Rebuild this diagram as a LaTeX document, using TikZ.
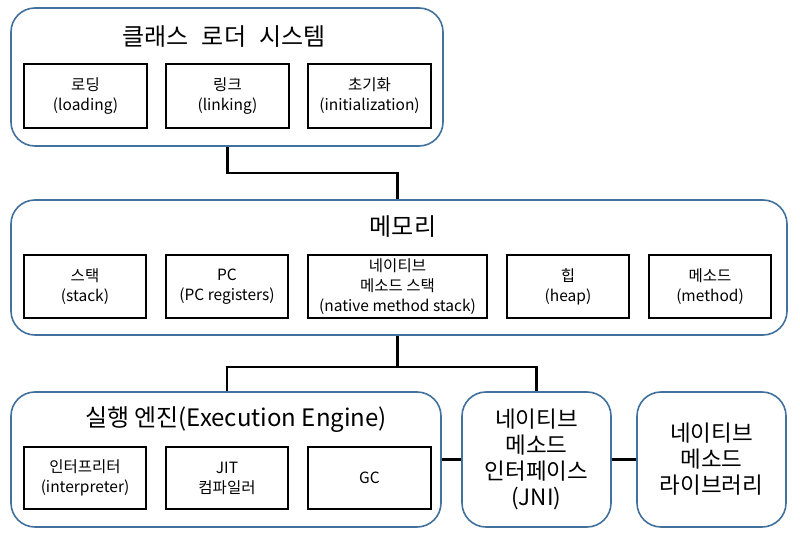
\documentclass[tikz,border=0pt]{standalone}
\usepackage{fontspec}
\setmainfont{Noto Sans CJK KR}
\definecolor{outl}{HTML}{41719C}
\tikzset{
  x=1pt,y=-1pt,
  group/.style={draw=outl,line width=1.6pt,rounded corners=24pt,fill=white},
  part/.style={draw=black,line width=1.6pt,align=center,inner sep=0pt,
    font=\fontsize{15.5}{20}\selectfont},
  ttl/.style={font=\fontsize{24}{28}\selectfont,inner sep=0pt},
  big/.style={align=center,inner sep=0pt,font=\fontsize{22.5}{26}\selectfont},
  conn/.style={draw=black,line width=2.4pt}
}
\begin{document}
\begin{tikzpicture}
\useasboundingbox (0,0) rectangle (800,534);
% class loader system
\node[group,minimum width=432,minimum height=138] (cls) at (227,77) {};
\node[ttl] (clst) at (224,37) {클래스\hspace{0.55em}로더\hspace{0.55em}시스템};
\node[part,minimum width=123,minimum height=64] (ld) at (85.5,96) {로딩\\(loading)};
\node[part,minimum width=123,minimum height=64] (lnk) at (227.5,96) {링크\\(linking)};
\node[part,minimum width=123,minimum height=64] (ini) at (369.5,96) {초기화\\(initialization)};
% memory
\node[group,minimum width=776,minimum height=135] (mem) at (399,267.5) {};
\node[ttl] (memt) at (403,227) {메모리};
\node[part,minimum width=122,minimum height=63] (stk) at (85,286.5) {스택\\(stack)};
\node[part,minimum width=122,minimum height=63] (pc) at (227,286.5) {PC\\(PC registers)};
\node[part,minimum width=179,minimum height=63] (nms) at (397.5,286.5) {네이티브\\메소드 스택\\(native method stack)};
\node[part,minimum width=122,minimum height=63] (hp) at (568,286.5) {힙\\(heap)};
\node[part,minimum width=122,minimum height=63] (mth) at (710,286.5) {메소드\\(method)};
% execution engine
\node[group,minimum width=430,minimum height=135] (ee) at (226,459.5) {};
\node[ttl] (eet) at (236,420) {실행 엔진(Execution Engine)};
\node[part,minimum width=122,minimum height=62] (itp) at (85,478) {인터프리터\\(interpreter)};
\node[part,minimum width=122,minimum height=62] (jit) at (227,478) {JIT\\컴파일러};
\node[part,minimum width=123,minimum height=62] (gc) at (369.5,478) {GC};
% JNI and library
\node[group,minimum width=149,minimum height=135] (jni) at (536.5,459.5) {};
\node[big] (jnit) at (536.5,459.5) {네이티브\\메소드\\인터페이스\\(JNI)};
\node[group,minimum width=149,minimum height=135] (lib) at (711.5,459.5) {};
\node[big] (libt) at (711.5,459.5) {네이티브\\메소드\\라이브러리};
% connectors
\coordinate (j1) at (0,173);
\coordinate (j2) at (0,367);
\draw[conn] (lnk |- cls.south) -- (lnk |- j1) -| (nms |- mem.north);
\draw[conn] (nms |- mem.south) -- (nms |- j2);
\draw[conn] (jit |- ee.north) |- (jni.north |- j2) -- (jni.north);
\draw[conn] (ee.east) -- (jni.west);
\draw[conn] (jni.east) -- (lib.west);
\end{tikzpicture}
\end{document}
